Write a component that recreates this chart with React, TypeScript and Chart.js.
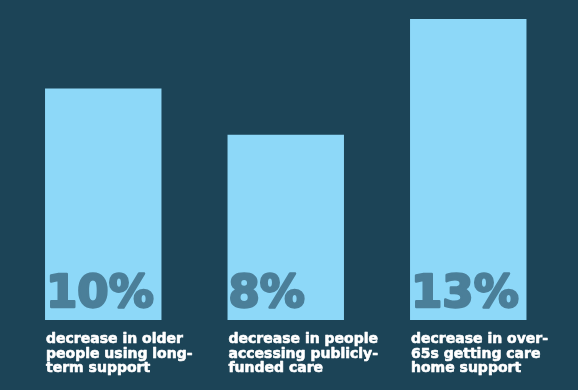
import React, { useEffect, useRef } from "react";
import { Chart, registerables } from "chart.js";

Chart.register(...registerables);

const categories = ["older people long-term support", "publicly-funded care", "over-65s care home support"];
const values = [10, 8, 13];
const valueLabels = ["10%", "8%", "13%"];
const captions = [
  ["decrease in older", "people using long-", "term support"],
  ["decrease in people", "accessing publicly-", "funded care"],
  ["decrease in over-", "65s getting care", "home support"],
];

const BG = "#1c4457";
const BAR = "#8dd8f8";
const PCT = "#4b7f99";

const labelPlugin = {
  id: "barTexts",
  afterDatasetsDraw(chart: any) {
    const ctx = chart.ctx;
    const meta = chart.getDatasetMeta(0);
    ctx.save();
    meta.data.forEach((bar: any, i: number) => {
      const left = bar.x - bar.width / 2;
      const bottom = bar.base;
      ctx.fillStyle = PCT;
      ctx.strokeStyle = PCT;
      ctx.lineJoin = "round";
      ctx.lineWidth = 2.5;
      ctx.font = "bold 45px 'DejaVu Sans'";
      ctx.textAlign = "left";
      ctx.textBaseline = "alphabetic";
      ctx.fillText(valueLabels[i], left + 1, bottom - 13.5);
      ctx.strokeText(valueLabels[i], left + 1, bottom - 13.5);
      ctx.fillStyle = "#ffffff";
      ctx.strokeStyle = "#ffffff";
      ctx.lineWidth = 0.6;
      ctx.font = "bold 14px 'DejaVu Sans'";
      captions[i].forEach((line, j) => {
        ctx.fillText(line, left + 1, bottom + 23 + j * 14.5);
        ctx.strokeText(line, left + 1, bottom + 23 + j * 14.5);
      });
    });
    ctx.restore();
  },
};

export default function App() {
  const ref = useRef<HTMLCanvasElement | null>(null);
  useEffect(() => {
    document.body.style.margin = "0";
    const chart = new Chart(ref.current!, {
      type: "bar",
      data: {
        labels: categories,
        datasets: [
          {
            data: values,
            backgroundColor: BAR,
            borderWidth: 0,
            categoryPercentage: 1,
            barPercentage: 0.638,
          },
        ],
      },
      options: {
        animation: false,
        responsive: false,
        maintainAspectRatio: false,
        layout: { padding: { left: 12, right: 18.5, top: 19, bottom: 70 } },
        plugins: { legend: { display: false }, tooltip: { enabled: false } },
        scales: {
          x: { display: false },
          y: { display: false, min: 0, max: 13 },
        },
      },
      plugins: [labelPlugin],
    });
    return () => chart.destroy();
  }, []);
  return (
    <div style={{ width: 578, height: 390, background: BG }}>
      <canvas ref={ref} width={578} height={390} style={{ display: "block", background: BG }} />
    </div>
  );
}
